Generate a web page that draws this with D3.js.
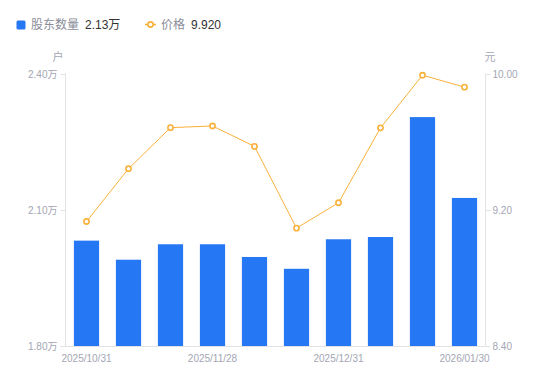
<!DOCTYPE html>
<html><head><meta charset="utf-8">
<script src="https://cdn.jsdelivr.net/npm/d3@7"></script>
<style>
body{margin:0;background:#fff;}
svg{display:block;font-family:"Liberation Sans","Noto Sans CJK SC",sans-serif;}
</style></head>
<body><svg id="c" width="550" height="381"></svg>
<script>
const dates = ["2025/10/31","2025/11/10","2025/11/20","2025/11/28","2025/12/10","2025/12/19","2025/12/31","2026/01/09","2026/01/20","2026/01/30"];
const holders = [2.032,1.990,2.024,2.024,1.996,1.970,2.035,2.040,2.304,2.126];
const prices = [9.131,9.441,9.682,9.692,9.572,9.092,9.241,9.681,9.990,9.920];
const leftTicks = [1.80,2.10,2.40];
const rightTicks = [8.40,9.20,10.00];
const shownDates = ["2025/10/31","2025/11/28","2025/12/31","2026/01/30"];

const svg = d3.select("#c");
const L = 65.5, R = 485.5, T = 73.5, B = 346;
const x = d3.scaleBand().domain(dates).range([L, R]).paddingInner(0.4).paddingOuter(0.2);
const yL = d3.scaleLinear().domain([1.80, 2.40]).range([B, T]);
const yR = d3.scaleLinear().domain([8.40, 10.00]).range([B, T]);
const labelColor = "#a3a6b4", axisColor = "#e3e3e6";

// axes lines
svg.append("line").attr("x1",L).attr("x2",L).attr("y1",T).attr("y2",B).attr("stroke",axisColor);
svg.append("line").attr("x1",R).attr("x2",R).attr("y1",T).attr("y2",B).attr("stroke",axisColor);

// left ticks
const gl = svg.append("g");
leftTicks.forEach(v=>{
  const y = Math.round(yL(v))+0.5;
  gl.append("line").attr("x1",L-5).attr("x2",L).attr("y1",y).attr("y2",y).attr("stroke",axisColor);
  gl.append("text").attr("x",L-8).attr("y",y).attr("dy","0.35em").attr("text-anchor","end")
    .attr("font-size",10).attr("fill",labelColor).text(v.toFixed(2)+"万");
});
const gr = svg.append("g");
rightTicks.forEach(v=>{
  const y = Math.round(yR(v))+0.5;
  gr.append("line").attr("x1",R).attr("x2",R+5).attr("y1",y).attr("y2",y).attr("stroke",axisColor);
  gr.append("text").attr("x",R+7).attr("y",y).attr("dy","0.35em").attr("text-anchor","start")
    .attr("font-size",10).attr("fill",labelColor).text(v.toFixed(2));
});
svg.append("text").attr("x",58).attr("y",61).attr("text-anchor","middle").attr("font-size",11).attr("fill",labelColor).text("户");
svg.append("text").attr("x",490).attr("y",61).attr("text-anchor","middle").attr("font-size",11).attr("fill",labelColor).text("元");

// bars
svg.append("g").selectAll("rect").data(dates).join("rect")
  .attr("x",d=>x(d)).attr("width",x.bandwidth())
  .attr("y",(d,i)=>yL(holders[i])).attr("height",(d,i)=>B-yL(holders[i]))
  .attr("fill","#2677f3");

// x axis line
svg.append("line").attr("x1",L-5).attr("x2",R).attr("y1",B+0.5).attr("y2",B+0.5).attr("stroke",axisColor);
svg.append("g").selectAll("text").data(shownDates).join("text")
  .attr("x",d=>x(d)+x.bandwidth()/2).attr("y",358).attr("dy","0.35em").attr("text-anchor","middle")
  .attr("font-size",10).attr("fill",labelColor).text(d=>d);

// price line
const lineColor = "#f9b13a";
const line = d3.line().x((d,i)=>x(dates[i])+x.bandwidth()/2).y(d=>yR(d));
svg.append("path").datum(prices).attr("d",line).attr("fill","none").attr("stroke",lineColor).attr("stroke-width",1);
svg.append("g").selectAll("circle").data(prices).join("circle")
  .attr("cx",(d,i)=>x(dates[i])+x.bandwidth()/2).attr("cy",d=>yR(d)).attr("r",2.6)
  .attr("fill","#fff").attr("stroke",lineColor).attr("stroke-width",1.6);

// legend
svg.append("rect").attr("x",16.5).attr("y",20.5).attr("width",9).attr("height",9).attr("rx",1.5).attr("fill","#2677f3");
svg.append("text").attr("x",31).attr("y",29).attr("font-size",12).attr("fill","#8a8d99").text("股东数量");
svg.append("text").attr("x",85).attr("y",29).attr("font-size",12).attr("fill","#333").text("2.13万");
svg.append("line").attr("x1",145).attr("x2",156).attr("y1",24.5).attr("y2",24.5).attr("stroke",lineColor).attr("stroke-width",1.6);
svg.append("circle").attr("cx",150.5).attr("cy",24.5).attr("r",2.6).attr("fill","#fff").attr("stroke",lineColor).attr("stroke-width",1.6);
svg.append("text").attr("x",161).attr("y",29).attr("font-size",12).attr("fill","#8a8d99").text("价格");
svg.append("text").attr("x",191).attr("y",29).attr("font-size",12).attr("fill","#333").text("9.920");
</script></body></html>
